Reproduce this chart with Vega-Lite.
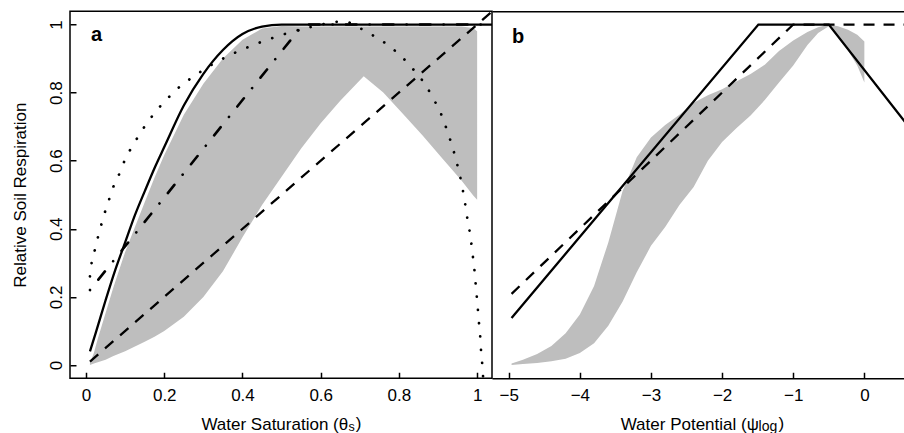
{
  "$schema": "https://vega.github.io/schema/vega-lite/v6.json",
  "background": "white",
  "padding": {"left": 10, "top": 10.25, "right": 0, "bottom": -1.5},
  "spacing": 0,
  "bounds": "flush",
  "config": {
    "font": "Liberation Sans",
    "view": {"stroke": null},
    "axis": {
      "grid": false,
      "labelFont": "Liberation Sans", "labelFontSize": 17, "labelColor": "black",
      "titleFont": "Liberation Sans", "titleFontSize": 17, "titleColor": "black", "titleFontWeight": "normal",
      "tickColor": "black", "tickWidth": 1.5, "tickSize": -6,
      "domainColor": "black", "domainWidth": 1.5,
      "labelFlush": false, "labelOverlap": false
    }
  },
  "datasets": {
    "bandA": [
      {"x": 0.01, "lo": 0.0, "hi": 0.005}, {"x": 0.02, "lo": 0.004, "hi": 0.035}, {"x": 0.03, "lo": 0.008, "hi": 0.077},
      {"x": 0.05, "lo": 0.015, "hi": 0.153}, {"x": 0.07, "lo": 0.026, "hi": 0.228}, {"x": 0.1, "lo": 0.04, "hi": 0.332},
      {"x": 0.125, "lo": 0.054, "hi": 0.405}, {"x": 0.15, "lo": 0.068, "hi": 0.478}, {"x": 0.175, "lo": 0.083, "hi": 0.55},
      {"x": 0.2, "lo": 0.1, "hi": 0.617}, {"x": 0.25, "lo": 0.142, "hi": 0.735}, {"x": 0.3, "lo": 0.2, "hi": 0.826},
      {"x": 0.35, "lo": 0.275, "hi": 0.9}, {"x": 0.4, "lo": 0.375, "hi": 0.955}, {"x": 0.45, "lo": 0.47, "hi": 0.988},
      {"x": 0.5, "lo": 0.553, "hi": 0.996}, {"x": 0.55, "lo": 0.636, "hi": 0.994}, {"x": 0.6, "lo": 0.71, "hi": 0.994},
      {"x": 0.65, "lo": 0.776, "hi": 0.994}, {"x": 0.71, "lo": 0.848, "hi": 0.994}, {"x": 0.76, "lo": 0.8, "hi": 0.994},
      {"x": 0.81, "lo": 0.738, "hi": 0.994}, {"x": 0.86, "lo": 0.675, "hi": 0.994}, {"x": 0.91, "lo": 0.608, "hi": 0.994},
      {"x": 0.96, "lo": 0.542, "hi": 0.994}, {"x": 0.99, "lo": 0.498, "hi": 0.99}, {"x": 1.0, "lo": 0.485, "hi": 0.98}
    ],
    "solidA": [
      {"x": 0.01, "y": 0.04}, {"x": 0.025, "y": 0.095}, {"x": 0.05, "y": 0.19}, {"x": 0.075, "y": 0.28},
      {"x": 0.1, "y": 0.36}, {"x": 0.125, "y": 0.44}, {"x": 0.15, "y": 0.51}, {"x": 0.175, "y": 0.578},
      {"x": 0.2, "y": 0.64}, {"x": 0.25, "y": 0.762}, {"x": 0.3, "y": 0.855}, {"x": 0.35, "y": 0.925},
      {"x": 0.4, "y": 0.972}, {"x": 0.45, "y": 0.994}, {"x": 0.5, "y": 1.0}, {"x": 1.04, "y": 1.0}
    ],
    "dotA": [
      {"x": 0.01, "y": 0.26}, {"x": 0.0146, "y": 0.302}, {"x": 0.023, "y": 0.34}, {"x": 0.031, "y": 0.378},
      {"x": 0.04, "y": 0.416}, {"x": 0.05, "y": 0.455}, {"x": 0.061, "y": 0.493}, {"x": 0.072, "y": 0.53},
      {"x": 0.087, "y": 0.566}, {"x": 0.1, "y": 0.604}, {"x": 0.117, "y": 0.64}, {"x": 0.134, "y": 0.672},
      {"x": 0.153, "y": 0.706}, {"x": 0.174, "y": 0.738}, {"x": 0.196, "y": 0.768}, {"x": 0.221, "y": 0.797},
      {"x": 0.246, "y": 0.824}, {"x": 0.274, "y": 0.846}, {"x": 0.303, "y": 0.869}, {"x": 0.334, "y": 0.89},
      {"x": 0.364, "y": 0.908}, {"x": 0.394, "y": 0.924}, {"x": 0.426, "y": 0.939}, {"x": 0.46, "y": 0.954},
      {"x": 0.492, "y": 0.966}, {"x": 0.524, "y": 0.978}, {"x": 0.558, "y": 0.988}, {"x": 0.59, "y": 0.997},
      {"x": 0.625, "y": 1.005}, {"x": 0.659, "y": 1.01}, {"x": 0.69, "y": 0.996}, {"x": 0.722, "y": 0.975},
      {"x": 0.752, "y": 0.956}, {"x": 0.78, "y": 0.932}, {"x": 0.806, "y": 0.907}, {"x": 0.829, "y": 0.878},
      {"x": 0.852, "y": 0.848}, {"x": 0.872, "y": 0.815}, {"x": 0.889, "y": 0.78}, {"x": 0.905, "y": 0.745},
      {"x": 0.917, "y": 0.709}, {"x": 0.929, "y": 0.669}, {"x": 0.939, "y": 0.632}, {"x": 0.948, "y": 0.594},
      {"x": 0.956, "y": 0.556}, {"x": 0.963, "y": 0.516}, {"x": 0.969, "y": 0.476}, {"x": 0.974, "y": 0.437},
      {"x": 0.98, "y": 0.398}, {"x": 0.985, "y": 0.359}, {"x": 0.989, "y": 0.32}, {"x": 0.993, "y": 0.28},
      {"x": 0.996, "y": 0.241}, {"x": 0.999, "y": 0.202}, {"x": 1.002, "y": 0.162}, {"x": 1.005, "y": 0.12},
      {"x": 1.008, "y": 0.081}, {"x": 1.01, "y": 0.042}, {"x": 1.013, "y": 0.003}, {"x": 1.016, "y": -0.05}
    ],
    "dashA": [{"x": 0.01, "y": 0.01}, {"x": 1.06, "y": 1.06}],
    "dotdashA": [{"x": 0.01, "y": 0.22}, {"x": 0.555, "y": 1.0}, {"x": 1.04, "y": 1.0}],
    "bandB": [
      {"x": -4.96, "lo": 0.0, "hi": 0.004}, {"x": -4.8, "lo": 0.003, "hi": 0.015}, {"x": -4.6, "lo": 0.006, "hi": 0.032},
      {"x": -4.4, "lo": 0.011, "hi": 0.056}, {"x": -4.2, "lo": 0.018, "hi": 0.093}, {"x": -4.0, "lo": 0.035, "hi": 0.148},
      {"x": -3.8, "lo": 0.064, "hi": 0.232}, {"x": -3.6, "lo": 0.115, "hi": 0.36}, {"x": -3.4, "lo": 0.186, "hi": 0.51},
      {"x": -3.2, "lo": 0.272, "hi": 0.61}, {"x": -3.0, "lo": 0.35, "hi": 0.668}, {"x": -2.8, "lo": 0.405, "hi": 0.705},
      {"x": -2.6, "lo": 0.47, "hi": 0.735}, {"x": -2.4, "lo": 0.523, "hi": 0.77}, {"x": -2.2, "lo": 0.6, "hi": 0.792},
      {"x": -2.0, "lo": 0.655, "hi": 0.81}, {"x": -1.8, "lo": 0.695, "hi": 0.833}, {"x": -1.6, "lo": 0.733, "hi": 0.855},
      {"x": -1.4, "lo": 0.778, "hi": 0.882}, {"x": -1.2, "lo": 0.83, "hi": 0.922}, {"x": -1.0, "lo": 0.88, "hi": 0.953},
      {"x": -0.8, "lo": 0.94, "hi": 0.978}, {"x": -0.65, "lo": 0.975, "hi": 0.992}, {"x": -0.5, "lo": 0.995, "hi": 1.0},
      {"x": -0.37, "lo": 0.968, "hi": 0.995}, {"x": -0.23, "lo": 0.924, "hi": 0.985}, {"x": -0.1, "lo": 0.88, "hi": 0.97},
      {"x": 0.0, "lo": 0.83, "hi": 0.95}
    ],
    "solidB": [{"x": -4.96, "y": 0.138}, {"x": -1.49, "y": 1.0}, {"x": -0.5, "y": 1.0}, {"x": 0.7, "y": 0.68}],
    "dashB": [{"x": -4.96, "y": 0.209}, {"x": -1.0, "y": 1.0}, {"x": 0.7, "y": 1.0}]
  },
  "hconcat": [
    {
      "width": 422,
      "height": 367,
      "view": {"stroke": "black", "strokeWidth": 1.5},
      "layer": [
        {
          "data": {"name": "bandA"},
          "mark": {"type": "area", "color": "#BEBEBE", "clip": true},
          "encoding": {
            "x": {"field": "x", "type": "quantitative",
                  "scale": {"domain": [-0.041, 1.038], "nice": false, "zero": false},
                  "axis": {"values": [0, 0.2, 0.4, 0.6, 0.8, 1], "format": "~g", "domain": false,
                           "labelPadding": 28, "labelBaseline": "alphabetic", "labelAngle": 0, "labelAlign": "center",
                           "title": "Water Saturation (θ", "titleAlign": "right", "titleX": 277.7, "titleY": 51, "titleBaseline": "alphabetic"}},
            "y": {"field": "lo", "type": "quantitative",
                  "scale": {"domain": [-0.039, 1.039], "nice": false, "zero": false},
                  "axis": {"values": [0, 0.2, 0.4, 0.6, 0.8, 1], "format": "~g", "domain": false,
                           "labelPadding": 14.5, "labelAngle": 270, "labelAlign": "center", "labelBaseline": "alphabetic",
                           "title": "Relative Soil Respiration", "titleAngle": 270, "titleAlign": "center", "titleBaseline": "alphabetic",
                           "titleX": -45, "titleY": 183.4}},
            "y2": {"field": "hi"}
          }
        },
        {
          "data": {"name": "dashA"},
          "mark": {"type": "line", "color": "black", "strokeWidth": 2.3, "strokeDash": [11, 9], "strokeCap": "butt", "clip": true},
          "encoding": {"x": {"field": "x", "type": "quantitative"}, "y": {"field": "y", "type": "quantitative"}}
        },
        {
          "data": {"name": "dotdashA"},
          "mark": {"type": "line", "color": "black", "strokeWidth": 2.6, "strokeDash": [0.1, 13.3, 10.5, 13.1], "strokeCap": "round", "clip": true},
          "encoding": {"x": {"field": "x", "type": "quantitative"}, "y": {"field": "y", "type": "quantitative"}}
        },
        {
          "data": {"name": "dotA"},
          "mark": {"type": "line", "color": "black", "strokeWidth": 2.7, "strokeDash": [0.1, 13.2], "strokeCap": "round", "interpolate": "monotone", "clip": true},
          "encoding": {"x": {"field": "x", "type": "quantitative"}, "y": {"field": "y", "type": "quantitative"}}
        },
        {
          "data": {"name": "solidA"},
          "mark": {"type": "line", "color": "black", "strokeWidth": 2.3, "interpolate": "monotone", "clip": true},
          "encoding": {"x": {"field": "x", "type": "quantitative"}, "y": {"field": "y", "type": "quantitative"}}
        },
        {
          "data": {"values": [{"t": "a"}]},
          "mark": {"type": "text", "font": "Liberation Sans", "fontSize": 20, "fontWeight": "bold", "align": "left", "baseline": "alphabetic", "color": "black"},
          "encoding": {"x": {"datum": 0.013, "type": "quantitative"}, "y": {"datum": 0.952, "type": "quantitative"}, "text": {"field": "t"}}
        },
        {
          "data": {"values": [{"t": "s"}]},
          "mark": {"type": "text", "font": "Liberation Sans", "fontSize": 12.5, "align": "left", "baseline": "alphabetic", "color": "black"},
          "encoding": {"x": {"datum": 0.671, "type": "quantitative"}, "y": {"datum": -0.1948, "type": "quantitative"}, "text": {"field": "t"}}
        },
        {
          "data": {"values": [{"t": ")"}]},
          "mark": {"type": "text", "font": "Liberation Sans", "fontSize": 17, "align": "left", "baseline": "alphabetic", "color": "black"},
          "encoding": {"x": {"datum": 0.6898, "type": "quantitative"}, "y": {"datum": -0.1889, "type": "quantitative"}, "text": {"field": "t"}}
        }
      ]
    },
    {
      "width": 412,
      "height": 367,
      "view": {"stroke": null},
      "resolve": {"axis": {"x": "independent"}},
      "layer": [
        {
          "data": {"name": "bandB"},
          "mark": {"type": "area", "color": "#BEBEBE", "clip": true},
          "encoding": {
            "x": {"field": "x", "type": "quantitative",
                  "scale": {"domain": [-5.235, 0.5573], "nice": false, "zero": false},
                  "axis": {"values": [-5, -4, -3, -2, -1, 0], "format": "d", "domain": true,
                           "labelPadding": 28, "labelBaseline": "alphabetic", "labelAngle": 0, "labelAlign": "center",
                           "title": "Water Potential (ψ", "titleAlign": "right", "titleX": 266.3, "titleY": 51, "titleBaseline": "alphabetic"}},
            "y": {"field": "lo", "type": "quantitative",
                  "scale": {"domain": [-0.039, 1.039], "nice": false, "zero": false}, "axis": null},
            "y2": {"field": "hi"}
          }
        },
        {
          "data": {"name": "dashB"},
          "mark": {"type": "line", "color": "black", "strokeWidth": 2.3, "strokeDash": [11, 9], "strokeCap": "butt", "clip": true},
          "encoding": {
            "x": {"field": "x", "type": "quantitative",
                  "axis": {"orient": "top", "domain": true, "ticks": false, "labels": false, "title": null}},
            "y": {"field": "y", "type": "quantitative", "axis": null}
          }
        },
        {
          "data": {"name": "solidB"},
          "mark": {"type": "line", "color": "black", "strokeWidth": 2.3, "clip": true},
          "encoding": {
            "x": {"field": "x", "type": "quantitative", "axis": null},
            "y": {"field": "y", "type": "quantitative", "axis": null}
          }
        },
        {
          "data": {"values": [{"t": "b"}]},
          "mark": {"type": "text", "font": "Liberation Sans", "fontSize": 20, "fontWeight": "bold", "align": "left", "baseline": "alphabetic", "color": "black"},
          "encoding": {"x": {"datum": -4.955, "type": "quantitative", "axis": null}, "y": {"datum": 0.947, "type": "quantitative", "axis": null}, "text": {"field": "t"}}
        },
        {
          "data": {"values": [{"t": "log"}]},
          "mark": {"type": "text", "font": "Liberation Sans", "fontSize": 14, "align": "left", "baseline": "alphabetic", "color": "black"},
          "encoding": {"x": {"datum": -1.488, "type": "quantitative", "axis": null}, "y": {"datum": -0.1948, "type": "quantitative", "axis": null}, "text": {"field": "t"}}
        },
        {
          "data": {"values": [{"t": ")"}]},
          "mark": {"type": "text", "font": "Liberation Sans", "fontSize": 17, "align": "left", "baseline": "alphabetic", "color": "black"},
          "encoding": {"x": {"datum": -1.207, "type": "quantitative", "axis": null}, "y": {"datum": -0.1889, "type": "quantitative", "axis": null}, "text": {"field": "t"}}
        }
      ]
    }
  ]
}
